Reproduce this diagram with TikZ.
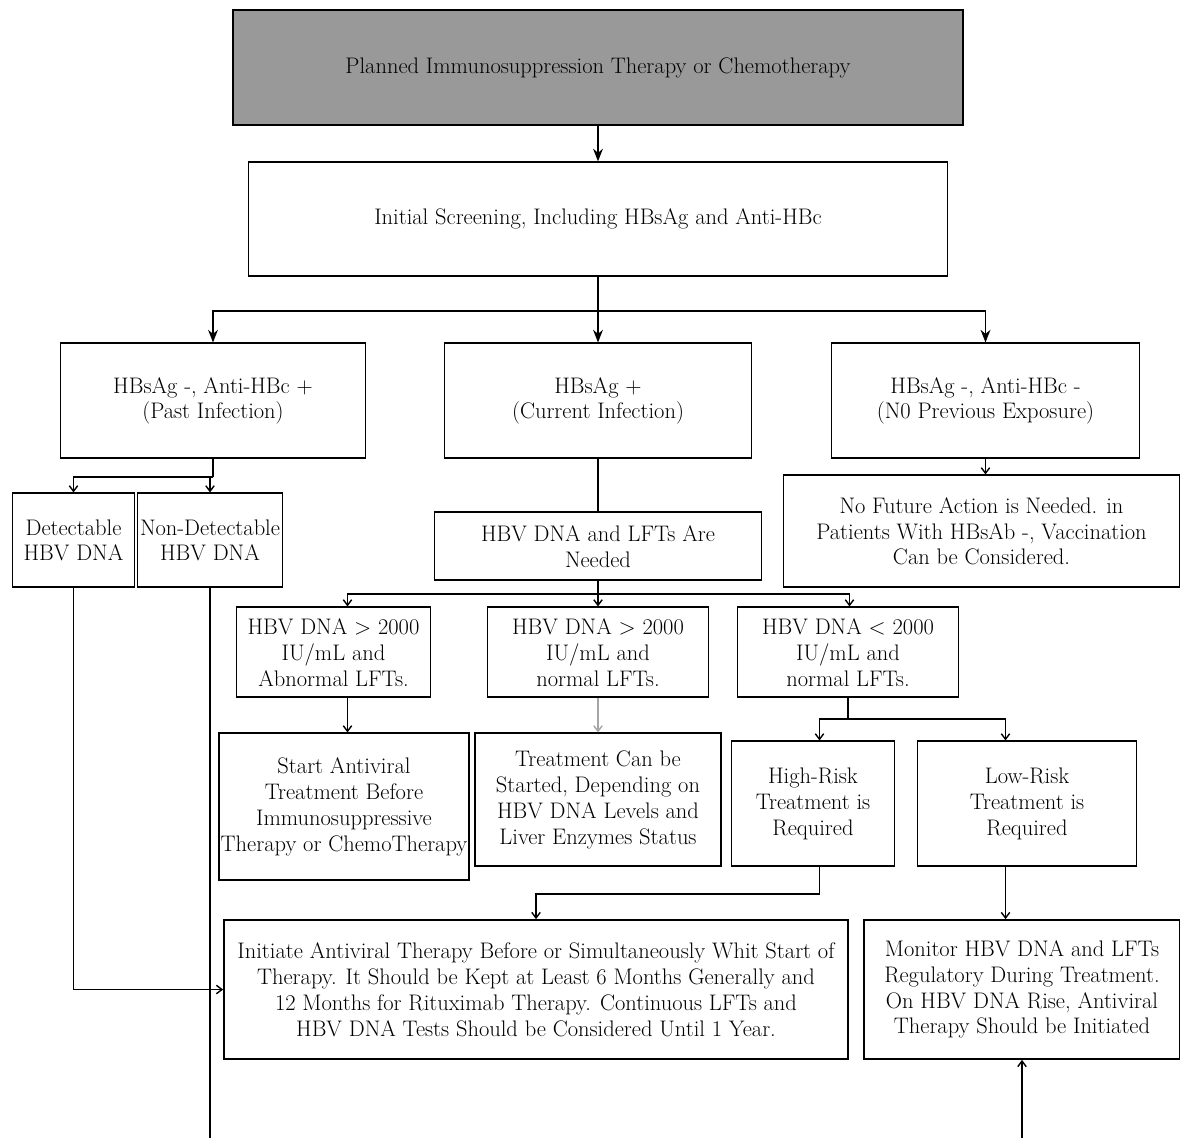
\documentclass[tikz,border=0pt]{standalone}
\usepackage{fontspec}
\usepackage{tikz}
\usetikzlibrary{arrows.meta, positioning}
\usepackage{xcolor}
\definecolor{plangray}{RGB}{153,153,153}

\begin{document}
\begin{tikzpicture}[node distance=2cm,on grid,line width=1pt]
    \tikzstyle{box}=[shape=rectangle,draw,line width=1.2pt,align=center,inner sep=1pt,font=\fontsize{16pt}{18.4pt}\selectfont]
    \tikzstyle{big}=[-{Stealth[length=9pt,width=7pt]}]
    \tikzstyle{small}=[-{Straight Barb[length=4pt,width=6pt]}]

    \useasboundingbox (0,0) rectangle (29.5,-28.45);

    \node[box, fill=plangray, minimum width=18.25cm, minimum height=2.875cm] (plan) at (14.95,-1.69) {Planned Immunosuppression Therapy or Chemotherapy};
    \node[box, below=3.79cm of plan, minimum width=17.475cm, minimum height=2.85cm] (screen) {Initial Screening, Including HBsAg and Anti-HBc};
    \node[box, below=4.54cm of screen, minimum width=7.675cm, minimum height=2.875cm] (curr) {HBsAg +\\(Current Infection)};
    \node[box, left=9.625cm of curr, minimum width=7.625cm, minimum height=2.875cm] (past) {HBsAg -, Anti-HBc +\\(Past Infection)};
    \node[box, right=9.6875cm of curr, minimum width=7.7cm, minimum height=2.875cm] (none) {HBsAg -, Anti-HBc -\\(N0 Previous Exposure)};
    \node[box, below left=3.4875cm and 3.4875cm of past, minimum width=3.05cm, minimum height=2.35cm] (det) {Detectable\\HBV DNA};
    \node[box, below=3.4875cm of past, xshift=-0.075cm, minimum width=3.625cm, minimum height=2.35cm] (nondet) {Non-Detectable\\HBV DNA};
    \node[box, below=3.2625cm of none, xshift=-0.1cm, minimum width=9.9cm, minimum height=2.8cm] (nofut) {No Future Action is Needed. in\\Patients With HBsAb -, Vaccination\\Can be Considered.};
    \node[box, below=3.6375cm of curr, minimum width=8.175cm, minimum height=1.7cm] (need) {HBV DNA and LFTs Are\\Needed};
    \node[box, below=2.65cm of need, minimum width=5.525cm, minimum height=2.25cm] (hB) {HBV DNA > 2000\\IU/mL and\\normal LFTs.};
    \node[box, left=6.6125cm of hB, minimum width=4.85cm, minimum height=2.25cm] (hA) {HBV DNA > 2000\\IU/mL and\\Abnormal LFTs.};
    \node[box, right=6.25cm of hB, minimum width=5.525cm, minimum height=2.25cm] (hC) {HBV DNA < 2000\\IU/mL and\\normal LFTs.};
    \node[box, below=3.8625cm of hA, xshift=0.2625cm, minimum width=6.225cm, minimum height=3.675cm] (start) {Start Antiviral\\Treatment Before\\Immunosuppressive\\Therapy or ChemoTherapy};
    \node[box, below=3.6875cm of hB, minimum width=6.15cm, minimum height=3.325cm] (treat) {Treatment Can be\\Started, Depending on\\HBV DNA Levels and\\Liver Enzymes Status};
    \node[box, below=3.7875cm of hC, xshift=-0.875cm, minimum width=4.075cm, minimum height=3.125cm] (high) {High-Risk\\Treatment is\\Required};
    \node[box, right=5.35cm of high, minimum width=5.475cm, minimum height=3.125cm] (low) {Low-Risk\\Treatment is\\Required};
    \node[box, minimum width=15.6cm, minimum height=3.475cm] (init) at (13.4,-24.7375) {Initiate Antiviral Therapy Before or Simultaneously Whit Start of\\Therapy. It Should be Kept at Least 6 Months Generally and\\12 Months for Rituximab Therapy. Continuous LFTs and\\HBV DNA Tests Should be Considered Until 1 Year.};
    \node[box, right=12.15cm of init, minimum width=7.9cm, minimum height=3.475cm] (mon) {Monitor HBV DNA and LFTs\\Regulatory During Treatment.\\On HBV DNA Rise, Antiviral\\Therapy Should be Initiated};

    \path (screen.south) ++(0,-0.85) coordinate (sbus);
    \path (past.south) ++(0,-0.45) coordinate (pbus);
    \path (need.south) ++(0,-0.325) coordinate (nbus);
    \path (hC.south) ++(0,-0.525) coordinate (cbus);
    \coordinate (ndend) at (nondet.south |- 0,-28.45);
    \coordinate (monin) at (mon.south |- 0,-28.45);

    \path[big, draw]
    (plan) edge (screen)
    (screen) edge (curr)
    ;
    \draw[big] (sbus) -| (past.north);
    \draw[big] (sbus) -| (none.north);

    \draw[line width=1.6pt] (past.south) -- (pbus);
    \draw[small] (pbus) -| (det.north);
    \draw[small] (pbus) -| (nondet.north);
    \draw[small] (none.south) -- (none.south |- nofut.north);
    \draw (curr) -- (need);

    \draw (need.south) -- (nbus);
    \draw[small] (nbus) -| ([xshift=0.35cm]hA.north);
    \draw[small] (nbus) -- (hB.north);
    \draw[small] (nbus) -| ([xshift=0.0375cm]hC.north);
    \draw[small] ([xshift=0.35cm]hA.south) -- ([xshift=0.35cm]hA.south |- start.north);
    \draw[small, gray!70] (hB.south) -- (hB.south |- treat.north);

    \draw (hC.south) -- (cbus);
    \draw[small] (cbus) -| ([xshift=0.1625cm]high.north);
    \draw[small] (cbus) -| ([xshift=-0.5375cm]low.north);
    \draw[small] ([xshift=0.1625cm]high.south) -- ++(0,-0.675) -| (init.north);
    \draw[small] ([xshift=-0.5375cm]low.south) -- ([xshift=-0.5375cm]low.south |- mon.north);

    \draw[small] (det.south) |- (init.west);
    \draw (nondet.south) -- (ndend);
    \draw[small] (monin) -- (mon.south);

\end{tikzpicture}
\end{document}
